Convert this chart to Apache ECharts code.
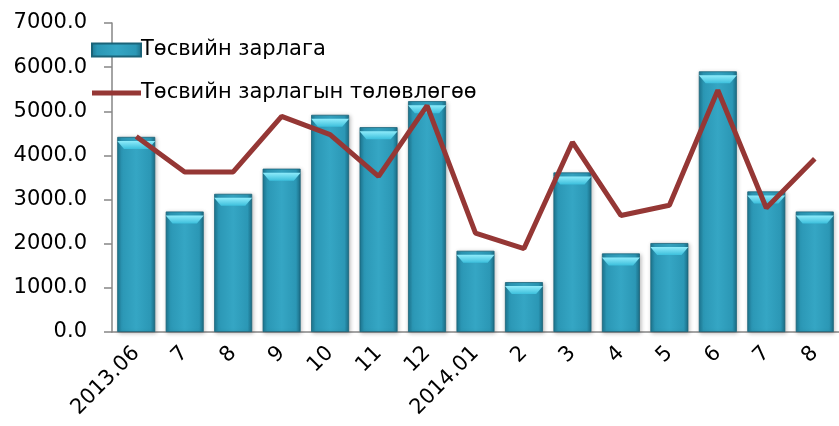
<!DOCTYPE html>
<html>
<head>
<meta charset="utf-8">
<script src="https://cdn.jsdelivr.net/npm/echarts@6/dist/echarts.min.js"></script>
<style>
  html, body { margin: 0; padding: 0; background: #fff; }
  #chart { width: 839px; height: 426px; }
</style>
</head>
<body>
<div id="chart"></div>
<script>
// months
const categories = ['2013.06', '7', '8', '9', '10', '11', '12', '2014.01', '2', '3', '4', '5', '6', '7', '8'];
// Төсвийн зарлага (bars)
const spending = [4420, 2730, 3130, 3700, 4920, 4640, 5230, 1840, 1130, 3615, 1780, 2015, 5905, 3185, 2730];
// Төсвийн зарлагын төлөвлөгөө (line)
const plan = [4430, 3625, 3625, 4885, 4470, 3525, 5130, 2240, 1890, 4300, 2640, 2870, 5475, 2810, 3925];

const seriesNames = ['Төсвийн зарлага', 'Төсвийн зарлагын төлөвлөгөө'];

const font = 'DejaVu Sans';
const lineColor = '#953735';

const barFill = new echarts.graphic.LinearGradient(0, 0, 1, 0, [
  { offset: 0, color: '#1d7690' },
  { offset: 0.12, color: '#2b97b5' },
  { offset: 0.5, color: '#35a6c4' },
  { offset: 0.88, color: '#2b97b5' },
  { offset: 1, color: '#1b6d86' }
]);

const bevelFill = new echarts.graphic.LinearGradient(0, 0, 0, 1, [
  { offset: 0, color: '#8fecfb' },
  { offset: 1, color: '#3cbfdc' }
]);

const chart = echarts.init(document.getElementById('chart'));

const option = {
  backgroundColor: '#fff',
  animation: false,
  grid: { left: 112, right: -6, top: 23, bottom: 94 },
  legend: {
    data: [
      { name: seriesNames[0], icon: 'rect' },
      { name: seriesNames[1], icon: 'path://M0,0 L49,0 L49,5 L0,5 Z' }
    ],
    orient: 'vertical',
    left: 86,
    top: 33,
    itemWidth: 49,
    itemHeight: 13,
    itemGap: 19,
    textStyle: { fontFamily: font, fontSize: 21, color: '#000', lineHeight: 24, padding: [0, 0, 0, -5] }
  },
  xAxis: {
    type: 'category',
    data: categories,
    axisLine: { lineStyle: { color: '#868686', width: 1.5 } },
    axisTick: { length: 8, lineStyle: { color: '#868686', width: 1.5 } },
    axisLabel: {
      rotate: 45,
      margin: 18,
      interval: 0,
      fontFamily: font,
      fontSize: 21,
      color: '#000'
    }
  },
  yAxis: {
    type: 'value',
    min: 0,
    max: 7000,
    interval: 1000,
    splitLine: { show: false },
    axisLine: { show: true, lineStyle: { color: '#868686', width: 1.5 } },
    axisTick: { show: true, length: 8, lineStyle: { color: '#868686', width: 1.5 } },
    axisLabel: {
      margin: 25,
      fontFamily: font,
      fontSize: 21,
      color: '#000',
      formatter: (v) => v.toFixed(1)
    }
  },
  series: [
    {
      name: seriesNames[0],
      type: 'bar',
      data: spending,
      barWidth: 38,
      z: 2,
      itemStyle: {
        color: barFill,
        borderColor: '#1a6378',
        borderWidth: 0.8,
        shadowColor: 'rgba(0,0,0,0.25)',
        shadowBlur: 4,
        shadowOffsetX: 1,
        shadowOffsetY: 1
      }
    },
    {
      // bevel on top of each bar
      type: 'pictorialBar',
      data: spending,
      symbol: 'path://M0,0 L10,0 L8.2,1 L1.8,1 Z',
      symbolSize: [38, 8],
      symbolPosition: 'end',
      symbolOffset: [0, '50%'],
      z: 3,
      silent: true,
      itemStyle: { color: bevelFill }
    },
    {
      name: seriesNames[1],
      type: 'line',
      data: plan,
      symbol: 'none',
      z: 5,
      lineStyle: { color: lineColor, width: 5 },
      itemStyle: { color: lineColor }
    }
  ]
};

chart.setOption(option);
</script>
</body>
</html>
